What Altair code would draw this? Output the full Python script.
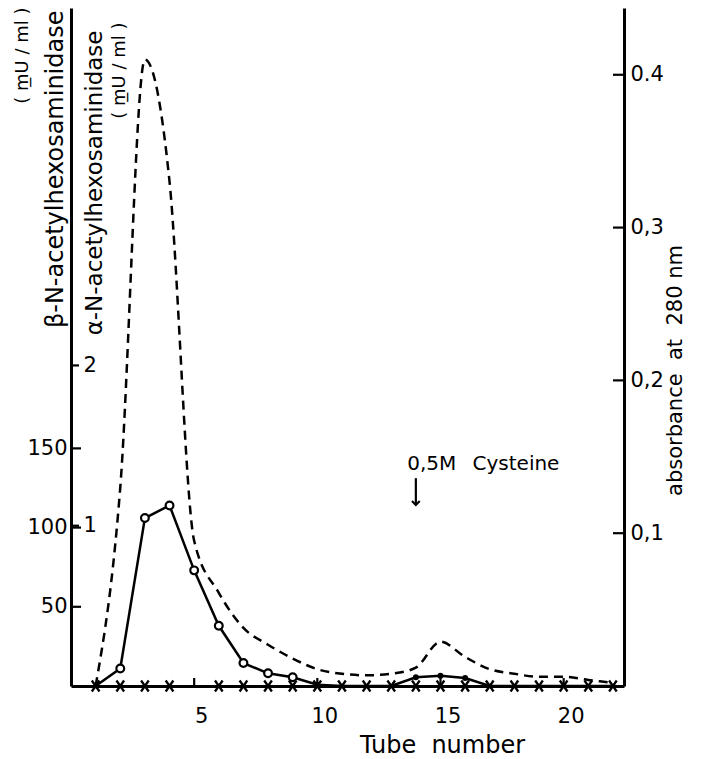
import altair as alt
import pandas as pd

# ---------------- data ----------------
tubes = list(range(1, 23))
beta_activity = [0, 11, 106, 114, 73, 38, 14.5, 8, 5.5, 0.8, 0, 0, 0, 5.5, 6.5, 5, 0, 0, 0, 0, 0, 0]
alpha_activity = [0] * 22
absorbance = [0.0, 0.13, 0.41, 0.33, 0.095, 0.061, 0.038, 0.027, 0.018, 0.011, 0.008,
              0.007, 0.008, 0.012, 0.029, 0.019, 0.011, 0.008, 0.006, 0.006, 0.004, 0.002]
open_circle_tubes = [2, 3, 4, 5, 6, 7, 8, 9]
filled_dot_tubes = [10, 14, 15, 16]
cross_tubes = [1, 2, 3, 4, 6, 7, 8, 9, 10, 11, 12, 13, 14, 15, 16, 17, 18, 19, 20, 21, 22]

x_tick_values = [5, 10, 15, 20]
beta_tick_values = [50, 100, 150]
alpha_tick_values = [1, 2]
abs_tick_values = [0.1, 0.2, 0.3, 0.4]

annot_text = ["0,5M", "Cysteine"]
annot_tube = [13.65, 16.3]
annot_abs = [0.1414, 0.1414]
arrow_tube = [14.0]
arrow_top = [0.136]
arrow_tip = [0.1185]

# ---------------- layout ----------------
W, H = 553, 678
FONT = "DejaVu Sans"
LBL = 21
UNIT = 18

df = pd.DataFrame({"tube": tubes, "beta": beta_activity, "alpha": alpha_activity, "abs": absorbance})
annot = pd.DataFrame({"tube": annot_tube, "abs": annot_abs, "txt": annot_text})
arrow = pd.DataFrame({"tube": arrow_tube, "top": arrow_top, "tip": arrow_tip})

xscale = alt.Scale(domain=[0, 22.45], nice=False, zero=False)
beta_scale = alt.Scale(domain=[0, 428], nice=False, zero=False)
alpha_scale = alt.Scale(domain=[0, 4.23], nice=False, zero=False)
abs_scale = alt.Scale(domain=[0, 0.4437], nice=False, zero=False)

common = dict(labelFont=FONT, labelColor="black", titleFont=FONT, titleColor="black",
              titleFontWeight="normal", grid=False)

x_axis = alt.Axis(orient="bottom", values=x_tick_values, ticks=False,
                  domain=True, domainColor="black", domainWidth=3,
                  labelFontSize=LBL, labelPadding=19, labelOffset=7,
                  title="Tube\u00a0 number", titleFontSize=24, titleX=371, titleY=66,
                  titleBaseline="alphabetic", titleAlign="center", **common)

beta_axis = alt.Axis(orient="left", values=beta_tick_values, ticks=False,
                     domain=True, domainColor="black", domainWidth=3,
                     labelFontSize=LBL, labelPadding=4,
                     title="\u03b2-N-acetylhexosaminidase",
                     titleAngle=270, titleAlign="right", titleBaseline="top",
                     titleX=-28, titleY=2, titleFontSize=24, **common)

beta_unit_axis = alt.Axis(orient="left", labels=False, ticks=False, domain=False,
                          title="( m\u0332U / ml )", titleAngle=270, titleAlign="right",
                          titleBaseline="top", titleX=-58, titleY=-1, titleFontSize=UNIT, **common)

alpha_axis = alt.Axis(orient="right", offset=-W, values=alpha_tick_values, ticks=False,
                      domain=False, labelFontSize=LBL, labelPadding=12, labelAlign="left",
                      title="\u03b1-N-acetylhexosaminidase",
                      titleAngle=270, titleAlign="right", titleBaseline="top",
                      titleX=12, titleY=22, titleFontSize=23, **common)

alpha_unit_axis = alt.Axis(orient="right", offset=-W, labels=False, ticks=False, domain=False,
                           title="( m\u0332U / ml )", titleAngle=270, titleAlign="right",
                           titleBaseline="top", titleX=39, titleY=14, titleFontSize=UNIT, **common)

abs_axis = alt.Axis(orient="right", values=abs_tick_values, ticks=False,
                    domain=True, domainColor="black", domainWidth=3,
                    labelFontSize=LBL, labelPadding=6, labelAlign="left",
                    labelExpr="datum.value > 0.35 ? '0.4' : replace(format(datum.value, '.1f'), '.', ',')",
                    title="absorbance\u00a0 at\u00a0 280 nm", titleAngle=270, titleAlign="center",
                    titleBaseline="top", titleX=40, titleY=362, titleFontSize=21, **common)

X = alt.X("tube:Q", scale=xscale, axis=None)

beta_line = alt.Chart(df).mark_line(color="black", strokeWidth=2.5).encode(
    x=alt.X("tube:Q", scale=xscale, axis=x_axis),
    y=alt.Y("beta:Q", scale=beta_scale, axis=beta_axis))
beta_open = alt.Chart(df).transform_filter(
    alt.FieldOneOfPredicate(field="tube", oneOf=open_circle_tubes)
).mark_point(shape="circle", fill="white", stroke="black", strokeWidth=2.2, size=60, opacity=1).encode(
    x=X, y=alt.Y("beta:Q", scale=beta_scale, axis=None))
beta_dots = alt.Chart(df).transform_filter(
    alt.FieldOneOfPredicate(field="tube", oneOf=filled_dot_tubes)
).mark_point(shape="circle", filled=True, color="black", size=35, opacity=1).encode(
    x=X, y=alt.Y("beta:Q", scale=beta_scale, axis=None))
beta_ticks = alt.Chart(pd.DataFrame({"v": beta_tick_values})).mark_rule(
    color="black", strokeWidth=2.2).encode(
    x=alt.value(0), x2=alt.value(10), y=alt.Y("v:Q", scale=beta_scale, axis=beta_unit_axis))

crosses = alt.Chart(df).transform_filter(
    alt.FieldOneOfPredicate(field="tube", oneOf=cross_tubes)
).mark_point(shape="M-0.7,-1L0.7,1M-0.7,1L0.7,-1", filled=False, color="black",
             strokeWidth=2.3, size=120, opacity=1).encode(
    x=X, y=alt.Y("alpha:Q", scale=alpha_scale, axis=alpha_axis))
alpha_ticks = alt.Chart(pd.DataFrame({"v": alpha_tick_values})).mark_rule(
    color="black", strokeWidth=2.2).encode(
    x=alt.value(0), x2=alt.value(8), y=alt.Y("v:Q", scale=alpha_scale, axis=alpha_unit_axis))

dashed = alt.Chart(df).mark_line(color="black", strokeWidth=2.5, strokeDash=[9, 6],
                                 interpolate="monotone").encode(
    x=X, y=alt.Y("abs:Q", scale=abs_scale, axis=abs_axis))
abs_ticks = alt.Chart(pd.DataFrame({"v": abs_tick_values})).mark_rule(
    color="black", strokeWidth=2.2).encode(
    x=alt.value(W - 11), x2=alt.value(W), y=alt.Y("v:Q", scale=abs_scale, axis=None))
x_ticks = alt.Chart(pd.DataFrame({"t": x_tick_values})).mark_rule(
    color="black", strokeWidth=2.2).encode(
    x=alt.X("t:Q", scale=xscale, axis=None), y=alt.value(H), y2=alt.value(H - 8))
arrow_shaft = alt.Chart(arrow).mark_rule(color="black", strokeWidth=2.2).encode(
    x=X, y=alt.Y("top:Q", scale=abs_scale, axis=None), y2="tip:Q")
arrow_head = alt.Chart(arrow).mark_point(shape="M-1,-1L0,0L1,-1", filled=False, color="black",
                                         strokeWidth=2.2, size=60, opacity=1).encode(
    x=X, y=alt.Y("tip:Q", scale=abs_scale, axis=None))
labels = alt.Chart(annot).mark_text(font=FONT, fontSize=20, align="left",
                                    baseline="alphabetic", color="black").encode(
    x=X, y=alt.Y("abs:Q", scale=abs_scale, axis=None), text="txt:N")

chart = alt.layer(
    beta_line, beta_ticks, beta_open, beta_dots,
    crosses, alpha_ticks,
    dashed, abs_ticks, x_ticks, arrow_shaft, arrow_head, labels
).resolve_scale(x="independent", y="independent").properties(
    width=W, height=H,
    autosize=alt.AutoSizeParams(type="none"),
    padding={"left": 71, "top": 8, "right": 702 - 71 - W, "bottom": 759 - 8 - H},
    background="white",
).configure_view(stroke="transparent")

chart.save("out.html", embed_options={"renderer": "svg", "actions": False})
